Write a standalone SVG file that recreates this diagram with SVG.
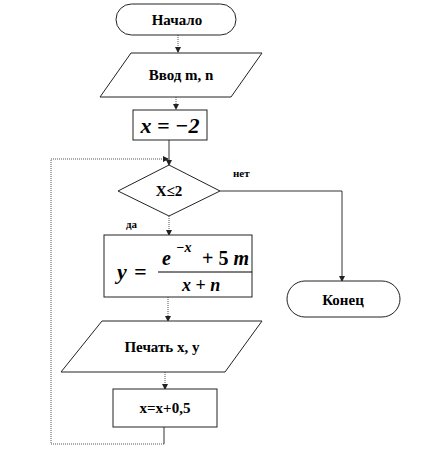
<svg xmlns="http://www.w3.org/2000/svg" width="426" height="462" viewBox="0 0 426 462">
<style>
.s{fill:#fff;stroke:#222;stroke-width:1}
.t{font-family:"Liberation Serif","DejaVu Serif",serif;font-weight:bold;font-size:15px;fill:#000;text-anchor:middle}
.m{font-family:"Liberation Serif","DejaVu Serif",serif;font-weight:bold;font-style:italic;fill:#000}
.c{fill:none;stroke:#333;stroke-width:1}
.d{fill:none;stroke:#555;stroke-width:1;stroke-dasharray:1 1}
.l{font-family:"Liberation Serif","DejaVu Serif",serif;font-weight:bold;font-size:11px;fill:#000}
</style>
<defs>
<marker id="a" markerWidth="6" markerHeight="6" refX="5" refY="3" orient="auto" markerUnits="userSpaceOnUse">
<path d="M0,0 L6,3 L0,6 Z" fill="#222"/>
</marker>
</defs>
<g id="connectors">
<path class="d" d="M178,35 V52" marker-end="url(#a)"/>
<path class="d" d="M176,97 V109" marker-end="url(#a)"/>
<path class="c" d="M169,140 V165" marker-end="url(#a)"/>
<path class="d" d="M169,216 V235" marker-end="url(#a)"/>
<path class="c" d="M220,191 H342 V281" marker-end="url(#a)"/>
<path class="d" d="M168,297 V321" marker-end="url(#a)"/>
<path class="d" d="M165,372 V389" marker-end="url(#a)"/>
<path class="c" d="M164,427 V444"/>
<path class="d" d="M164,444 H51 V159 H168" marker-end="url(#a)"/>
<text class="l" x="233" y="177">нет</text>
<text class="l" x="126" y="228">да</text>
</g>
<g id="start">
<rect class="s" x="116" y="4" width="120" height="31" rx="15.5"/>
<text class="t" x="177" y="25">Начало</text>
</g>
<g id="input">
<polygon class="s" points="131,53 262,53 231,97 100,97"/>
<text class="t" x="181" y="80">Ввод m, n</text>
</g>
<g id="init">
<rect class="s" x="133" y="110" width="74" height="30"/>
<text class="m" x="170" y="133" font-size="22" text-anchor="middle">x = −2</text>
</g>
<g id="cond">
<polygon class="s" points="118,191 169,165 220,191 169,216"/>
<text class="t" x="169" y="196" font-size="13">X≤2</text>
</g>
<g id="calc">
<rect class="s" x="104" y="235" width="148" height="62"/>
<text class="m" x="117" y="279" font-size="22">y</text>
<text class="m" x="134" y="279" font-size="22" font-style="normal">=</text>
<line x1="158" y1="272" x2="252" y2="272" stroke="#000" stroke-width="1"/>
<text class="m" x="162" y="265" font-size="20">e</text>
<text class="m" x="176" y="252" font-size="14">−x</text>
<text class="m" x="202" y="265" font-size="20"><tspan font-style="normal">+ 5</tspan> m</text>
<text class="m" x="182" y="291" font-size="18">x <tspan font-style="normal">+</tspan> n</text>
</g>
<g id="end">
<rect class="s" x="287" y="281" width="113" height="36" rx="18"/>
<text class="t" x="343" y="305">Конец</text>
</g>
<g id="print">
<polygon class="s" points="102,321 262,321 225,372 61,372"/>
<text class="t" x="162" y="352">Печать x, y</text>
</g>
<g id="incr">
<rect class="s" x="113" y="389" width="104" height="38"/>
<text class="t" x="165" y="413">x=x+0,5</text>
</g>
</svg>
